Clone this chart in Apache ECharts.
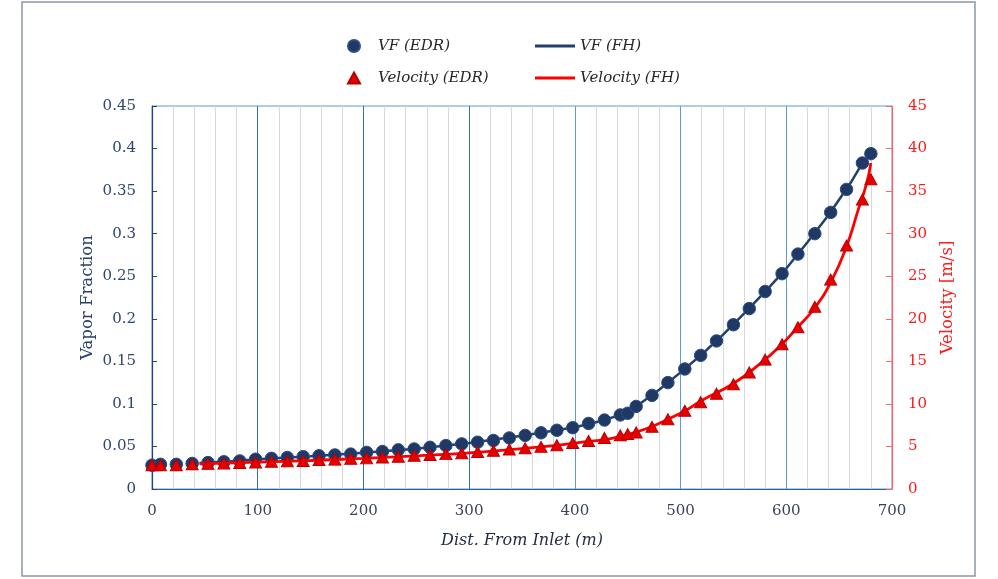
<!DOCTYPE html>
<html>
<head>
<meta charset="utf-8">
<script src="https://cdn.jsdelivr.net/npm/echarts@6/dist/echarts.min.js"></script>
<style>
html,body{margin:0;padding:0;background:#ffffff;}
#chart{width:998px;height:579px;}
</style>
</head>
<body>
<div id="chart"></div>
<script>
// ---- Data ----
const distEDR = [0, 8, 23, 38, 53, 68, 83, 98, 113, 128, 143, 158, 173, 188, 203, 218, 233, 248, 263, 278, 293, 308, 323, 338, 353, 368, 383, 398, 413, 428, 443, 450, 458, 473, 488, 504, 519, 534, 550, 565, 580, 596, 611, 627, 642, 657, 672, 680];
const vfEDR = [0.028, 0.029, 0.029, 0.030, 0.031, 0.032, 0.033, 0.035, 0.036, 0.037, 0.038, 0.039, 0.040, 0.041, 0.043, 0.044, 0.046, 0.047, 0.049, 0.051, 0.053, 0.055, 0.057, 0.060, 0.063, 0.066, 0.069, 0.072, 0.077, 0.081, 0.087, 0.089, 0.097, 0.110, 0.125, 0.141, 0.157, 0.174, 0.193, 0.212, 0.232, 0.253, 0.276, 0.300, 0.325, 0.352, 0.383, 0.394];
const velEDR = [2.8, 2.8, 2.8, 2.9, 2.95, 3.0, 3.05, 3.1, 3.2, 3.25, 3.3, 3.4, 3.45, 3.55, 3.6, 3.7, 3.8, 3.9, 4.0, 4.1, 4.2, 4.35, 4.5, 4.65, 4.8, 4.95, 5.15, 5.4, 5.65, 6.0, 6.3, 6.45, 6.65, 7.3, 8.2, 9.2, 10.2, 11.2, 12.3, 13.7, 15.2, 17.0, 19.0, 21.4, 24.6, 28.6, 34.0, 36.4];

const distVfFH = [45, 75, 100, 150, 200, 250, 300, 350, 400, 425, 443, 450, 458, 480, 500, 520, 540, 560, 580, 600, 620, 640, 660, 672, 680];
const vfFH = [0.0305, 0.0325, 0.035, 0.0385, 0.0425, 0.0472, 0.054, 0.0625, 0.0725, 0.080, 0.087, 0.089, 0.097, 0.117, 0.137, 0.158, 0.181, 0.206, 0.232, 0.259, 0.290, 0.322, 0.358, 0.383, 0.394];

const distVelFH = [45, 100, 150, 200, 250, 300, 350, 400, 450, 500, 520, 550, 575, 595, 610, 627, 643, 657, 668, 676, 680];
const velFH = [2.95, 3.15, 3.35, 3.6, 3.9, 4.25, 4.75, 5.4, 6.4, 8.9, 10.4, 12.4, 14.7, 16.9, 18.9, 21.3, 24.5, 28.5, 32.8, 35.9, 38.3];

const xRange = {min: 0, max: 700, interval: 100};
const vfRange = {min: 0, max: 0.45, interval: 0.05};
const velRange = {min: 0, max: 45, interval: 5};

const seriesNames = ['VF (EDR)', 'VF (FH)', 'Velocity (EDR)', 'Velocity (FH)'];
const titles = {x: 'Dist. From Inlet (m)', yLeft: 'Vapor Fraction', yRight: 'Velocity [m/s]'};

// ---- Chart ----
const zip = (xs, ys) => xs.map((x, i) => [x, ys[i]]);
const FONT = '"DejaVu Serif", "Liberation Serif", serif';
const NAVY = '#1f3864';
const RED = '#ff0000';
const legendText = {fontFamily: FONT, fontStyle: 'italic', fontSize: 15, color: '#262626', lineHeight: 20};

const chart = echarts.init(document.getElementById('chart'), null, {renderer: 'canvas'});
chart.setOption({
  animation: false,
  backgroundColor: '#ffffff',
  graphic: [{
    type: 'rect', silent: true, z: -1,
    shape: {x: 22, y: 2, width: 953, height: 574},
    style: {fill: 'none', stroke: '#8b97a8', lineWidth: 1.5}
  }],
  grid: {
    left: 152, right: 106, top: 106, bottom: 90,
    show: true, borderColor: '#5b9bd5', borderWidth: 1, backgroundColor: 'transparent'
  },
  legend: [{
    orient: 'vertical', left: 347, top: 36, padding: 0,
    itemWidth: 12, itemHeight: 12, itemGap: 12,
    data: [
      {name: seriesNames[0], icon: 'circle'},
      {name: seriesNames[2], icon: 'path://M5,0 L10,9 L0,9 Z'}
    ],
    formatter: name => '{g|}' + name,
    textStyle: Object.assign({}, legendText, {rich: {g: {width: 13}}})
  }, {
    orient: 'vertical', left: 535, top: 36, padding: 0,
    itemWidth: 40, itemHeight: 3, itemGap: 12,
    data: [
      {name: seriesNames[1], icon: 'rect'},
      {name: seriesNames[3], icon: 'rect'}
    ],
    textStyle: legendText
  }],
  xAxis: {
    type: 'value', min: xRange.min, max: xRange.max, interval: xRange.interval,
    name: titles.x, nameLocation: 'middle', nameGap: 44, nameMoveOverlap: false,
    nameTextStyle: {fontFamily: FONT, fontStyle: 'italic', fontSize: 16, color: '#1f2a44'},
    axisLine: {show: true, onZero: false, lineStyle: {color: '#2e5fa0', width: 1.2}},
    axisTick: {show: false},
    axisLabel: {fontFamily: FONT, fontSize: 15, color: '#3a4458', margin: 15},
    splitLine: {show: true, lineStyle: {color: ['#2e75b6', '#2e75b6', '#2e75b6', '#2e75b6', '#5b9bd5', '#5b9bd5', '#5b9bd5', '#5b9bd5'], width: 1}},
    minorTick: {show: false, splitNumber: 5},
    minorSplitLine: {show: true, lineStyle: {color: '#d9d9d9', width: 1}}
  },
  yAxis: [{
    type: 'value', position: 'left', min: vfRange.min, max: vfRange.max, interval: vfRange.interval,
    name: titles.yLeft, nameLocation: 'middle', nameGap: 56, nameRotate: 90, nameMoveOverlap: false,
    nameTextStyle: {fontFamily: FONT, fontSize: 16.5, color: '#2a416b'},
    axisLine: {show: true, onZero: false, lineStyle: {color: '#24427a', width: 1.2}},
    axisTick: {show: true, inside: true, length: 5, lineStyle: {color: '#24427a'}},
    axisLabel: {fontFamily: FONT, fontSize: 15, color: '#2e4670', margin: 16},
    splitLine: {show: false}
  }, {
    type: 'value', position: 'right', min: velRange.min, max: velRange.max, interval: velRange.interval,
    name: titles.yRight, nameLocation: 'middle', nameGap: 47, nameRotate: 90,
    nameTextStyle: {fontFamily: FONT, fontSize: 16.5, color: '#ff1a1a'},
    axisLine: {show: true, onZero: false, lineStyle: {color: '#ff6464', width: 1.2}},
    axisTick: {show: true, inside: true, length: 6, lineStyle: {color: '#ff6464'}},
    axisLabel: {fontFamily: FONT, fontSize: 15, color: '#ff1a1a', margin: 16},
    splitLine: {show: false}
  }],
  series: [{
    name: seriesNames[1], type: 'line', xAxisIndex: 0, yAxisIndex: 0,
    data: zip(distVfFH, vfFH), symbol: 'none', smooth: false,
    lineStyle: {color: '#233f6e', width: 2.5}, itemStyle: {color: '#233f6e'}, z: 2
  }, {
    name: seriesNames[0], type: 'scatter', xAxisIndex: 0, yAxisIndex: 0,
    data: zip(distEDR, vfEDR), symbol: 'circle', symbolSize: 12.5,
    itemStyle: {color: NAVY, borderColor: '#2d4d86', borderWidth: 1, opacity: 1}, z: 3
  }, {
    name: seriesNames[3], type: 'line', xAxisIndex: 0, yAxisIndex: 1,
    data: zip(distVelFH, velFH), symbol: 'none', smooth: true,
    lineStyle: {color: RED, width: 2.8}, itemStyle: {color: RED}, z: 4
  }, {
    name: seriesNames[2], type: 'scatter', xAxisIndex: 0, yAxisIndex: 1,
    data: zip(distEDR, velEDR), symbol: 'triangle', symbolSize: [12, 11],
    itemStyle: {color: '#e60000', borderColor: '#b80000', borderWidth: 1, opacity: 1}, z: 5
  }]
});
</script>
</body>
</html>
